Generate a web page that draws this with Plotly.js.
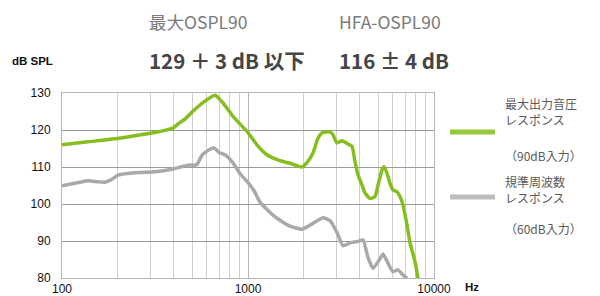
<!DOCTYPE html>
<html><head><meta charset="utf-8">
<script src="https://cdn.plot.ly/plotly-3.0.1.min.js"></script>
<style>html,body{margin:0;padding:0;background:#fff;}#chart{width:600px;height:296px;}</style>
</head><body><div id="chart"></div>
<script>
// Maximum output response (90 dB input)
const greenFreq = [100,138,198,256,305,358,395,420,459,506,587,665,734,830,988,1117,1265,1486,1682,1951,2076,2236,2379,2498,2760,2864,3008,3201,3447,3625,3760,3900,4100,4256,4527,4817,5000,5253,5384,5588,5800,6020,6324,6564,6813,7160,7431,7906,8204];
const greenDb = [116.0,116.8,117.7,118.6,119.2,119.9,120.5,121.6,123.0,125.1,127.8,129.4,127.3,123.7,119.6,116.0,113.3,111.7,111.0,110.0,111.2,113.8,117.8,119.2,119.5,118.7,116.5,117.1,116.2,115.6,111.5,107.9,105.2,103.0,101.5,102.0,105.1,109.2,110.1,108.3,105.6,103.8,103.3,102.0,99.7,94.3,89.5,84.4,79.9];
// Reference frequency response (60 dB input)
const grayFreq = [100,117,138,156,170,186,200,256,316,390,476,530,566,625,660,700,752,830,906,988,1080,1160,1362,1550,1682,1951,2153,2531,2760,3008,3243,3535,3900,4150,4420,4700,5126,5320,5660,6020,6400,6813,7160];
const grayDb = [104.9,105.6,106.3,106.0,105.9,106.7,107.8,108.5,108.7,109.4,110.5,110.6,113.2,114.8,115.1,113.9,113.3,111.1,108.2,106.1,103.5,100.5,97.0,95.0,94.0,93.2,94.3,96.3,95.5,92.3,88.7,89.5,89.9,90.3,85.5,82.6,85.2,86.5,84.0,81.7,82.2,80.8,79.9];

const xTickVals = [100,1000,10000];
const xTickText = ['100','1000','10000'];
const yTickVals = [80,90,100,110,120,130];

const header1 = ['最大OSPL90','HFA-OSPL90'];
const header2 = ['129 ＋ 3 dB 以下','116 ± 4 dB'];
const legend1 = ['最大出力音圧','レスポンス','（90dB入力）'];
const legend2 = ['規準周波数','レスポンス','（60dB入力）'];

const L=62, R=434, T=93, B=278;
const px = x => (x-L)/(R-L);
const py = y => (B-y)/(B-T);
const JP = '"Noto Sans CJK JP", "Noto Sans", sans-serif';

function ann(text, x, y, size, color, bold, xanchor){
  return {text: bold ? '<b>'+text+'</b>' : text, xref:'paper', yref:'paper', x:px(x), y:py(y),
    xanchor: xanchor||'left', yanchor:'middle', showarrow:false,
    font:{family:JP, size:size, color:color}};
}

const annotations = [
  ann(header1[0],147,22,17.5,'#7a7a7a',false),
  ann(header1[1],337,22,17.5,'#7a7a7a',false),
  ann(header2[0],147,60,20.5,'#454545',true),
  ann(header2[1],337,60,20.5,'#454545',true),
  {text:'<b>dB SPL</b>', xref:'paper', yref:'paper', x:px(10), y:py(61), xanchor:'left', yanchor:'middle', showarrow:false, font:{family:'Liberation Sans, Arial, sans-serif', size:11.5, color:'#111'}},
  {text:'<b>Hz</b>', xref:'paper', yref:'paper', x:px(463), y:py(287), xanchor:'left', yanchor:'middle', showarrow:false, font:{family:'Liberation Sans, Arial, sans-serif', size:11.5, color:'#111'}},
  ann(legend1[0],503,103,12,'#5a5a5a',false),
  ann(legend1[1],503,119,12,'#5a5a5a',false),
  ann(legend1[2],503,155,12,'#5a5a5a',false),
  ann(legend2[0],503,181,12,'#5a5a5a',false),
  ann(legend2[1],503,197,12,'#5a5a5a',false),
  ann(legend2[2],503,228,12,'#5a5a5a',false)
];

const shapes = [
  {type:'line', xref:'paper', yref:'paper', x0:px(450), x1:px(495), y0:py(132), y1:py(132), line:{color:'#95c93d', width:5}},
  {type:'line', xref:'paper', yref:'paper', x0:px(450), x1:px(495), y0:py(197), y1:py(197), line:{color:'#bdbdbd', width:5}}
];

const traces = [
  {x:grayFreq, y:grayDb, type:'scatter', mode:'lines', line:{color:'#a9a9a9', width:3.5, shape:'spline', smoothing:0.5}, hoverinfo:'skip'},
  {x:greenFreq, y:greenDb, type:'scatter', mode:'lines', line:{color:'#86bd1f', width:3.5, shape:'spline', smoothing:0.5}, hoverinfo:'skip'}
];

const layout = {
  width:600, height:296,
  margin:{l:L, r:600-R, t:T, b:296-B, pad:0},
  paper_bgcolor:'#fff', plot_bgcolor:'#fff',
  showlegend:false,
  xaxis:{type:'log', range:[2,4], tickvals:xTickVals, ticktext:xTickText, showgrid:true, gridcolor:'#b5b5b5', gridwidth:1,
    minor:{dtick:'D1', showgrid:true, gridcolor:'#cfcfcf', gridwidth:1, ticks:''},
    showline:true, linecolor:'#b5b5b5', mirror:true, ticks:'', zeroline:false,
    tickfont:{family:'Liberation Sans, Arial, sans-serif', size:12, color:'#111'}},
  yaxis:{range:[80,130], tickvals:yTickVals, showgrid:true, gridcolor:'#9a9a9a', gridwidth:1,
    showline:true, linecolor:'#b5b5b5', mirror:true, ticks:'', zeroline:false, ticklabelstandoff:8,
    tickfont:{family:'Liberation Sans, Arial, sans-serif', size:12, color:'#111'}},
  annotations:annotations, shapes:shapes
};

Plotly.newPlot('chart', traces, layout, {displayModeBar:false, staticPlot:true});
</script>
</body></html>
